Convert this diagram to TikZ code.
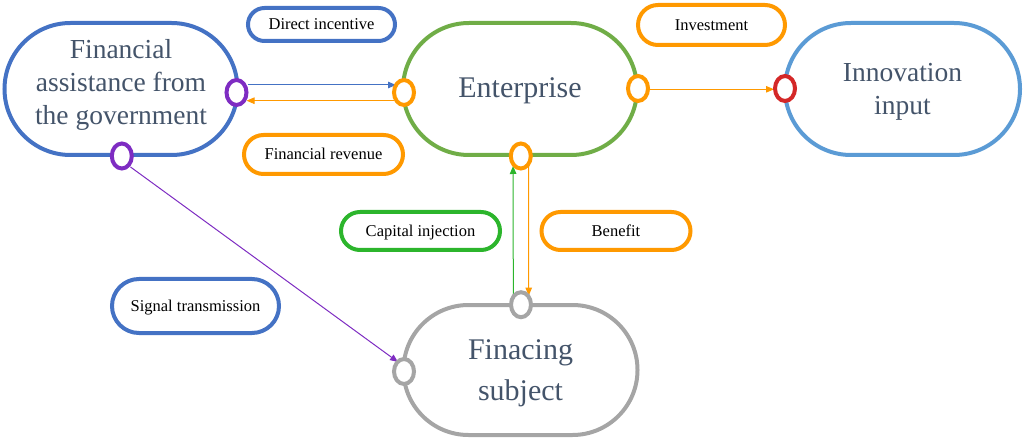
\documentclass[tikz,border=0pt]{standalone}
\usepackage{fontspec}
\setmainfont{Liberation Serif}
\usetikzlibrary{shapes.misc,shapes.geometric,arrows.meta,calc}
\definecolor{cblue}{HTML}{4472C4}
\definecolor{cgreen}{HTML}{70AD47}
\definecolor{clblue}{HTML}{5B9BD5}
\definecolor{cgray}{HTML}{A5A5A5}
\definecolor{corange}{HTML}{FF9900}
\definecolor{cpurple}{HTML}{7E2CC2}
\definecolor{cred}{HTML}{D42828}
\definecolor{cbgreen}{HTML}{2CB52C}
\definecolor{ctext}{HTML}{44546A}
\tikzset{
  mainbox/.style={rounded rectangle, line width=4pt, inner sep=0pt, align=center,
    minimum height=132pt, minimum width=233pt, text=ctext,
    font=\fontsize{30}{33}\selectfont},
  lab/.style={rounded rectangle, line width=4pt, inner sep=0pt, align=center,
    text=black, text height=11pt, text depth=0pt, font=\fontsize{16.5}{19}\selectfont},
  port/.style={ellipse, line width=4pt, inner sep=0pt, fill=white,
    minimum width=20pt, minimum height=25pt},
  conn/.style={line width=1pt, -{Triangle[length=8pt,width=6.5pt]}}
}
\begin{document}
\begin{tikzpicture}[x=1pt,y=-1pt]
\useasboundingbox (0,0) rectangle (1025,446);
% main boxes
\node[mainbox, draw=cblue, text depth=14.8pt, font=\fontsize{27.5}{33}\selectfont] (gov) at (121,89) {Financial\\assistance from\\the government};
\node[mainbox, draw=cgreen, minimum width=234pt, text depth=3pt] (ent) at (520,89) {Enterprise};
\node[mainbox, draw=clblue, minimum width=235pt, text depth=0pt, font=\fontsize{27.5}{32.6}\selectfont] (inn) at (902.5,89) {Innovation\\input};
\node[mainbox, draw=cgray, minimum width=234pt, minimum height=130pt, text depth=-9pt,
  font=\fontsize{30}{41}\selectfont] (fin) at (520.5,370) {Finacing\\subject};
% labels
\node[lab, draw=cblue, minimum width=147pt, minimum height=33pt] (ldi) at (321.5,24.5) {Direct incentive};
\node[lab, draw=corange, minimum width=159pt, minimum height=39pt] (lfr) at (323.5,154.5) {Financial revenue};
\node[lab, draw=corange, minimum width=147pt, minimum height=40pt] (linv) at (711.5,25) {Investment};
\node[lab, draw=cbgreen, minimum width=159pt, minimum height=38pt] (lci) at (420.5,231) {Capital injection};
\node[lab, draw=corange, minimum width=149pt, minimum height=38pt] (lben) at (616,231) {Benefit};
\node[lab, draw=cblue, minimum width=167pt, minimum height=54pt] (lsig) at (195.5,306) {Signal transmission};
% connectors
\coordinate (grc) at (236.5,92.5);
\coordinate (gbc) at (121.8,156);
\coordinate (elc) at (404,92.5);
\coordinate (erc) at (638,88.5);
\coordinate (ebc) at (520.8,156);
\coordinate (ilc) at (785,88.5);
\coordinate (ftc) at (521,304.7);
\coordinate (flc) at (404,371.5);
\draw[conn, cblue] ($(grc)+(11,-7.5)$) -- ($(elc)+(-8,-7.5)$);
\draw[conn, corange] ($(elc)+(-10,8.2)$) -- ($(grc)+(10,8.2)$);
\draw[conn, corange] ($(erc)+(12,0.8)$) -- ($(ilc)+(-11,0.8)$);
\draw[conn, cbgreen] ($(ftc)+(-7.7,-9)$) -- ($(ebc)+(-7.7,10)$);
\draw[conn, corange] ($(ebc)+(7.7,10)$) -- ($(ftc)+(7.7,-9)$);
\draw[conn, cpurple] ($(gbc)+(8.7,11)$) -- ($(flc)+(-6,-9.5)$);
% ports
\node[port, draw=cpurple] (gr) at (grc) {};
\node[port, draw=cpurple] (gb) at (gbc) {};
\node[port, draw=corange] (el) at (elc) {};
\node[port, draw=corange] (er) at (erc) {};
\node[port, draw=corange] (eb) at (ebc) {};
\node[port, draw=cred] (il) at (ilc) {};
\node[port, draw=cgray] (ft) at (ftc) {};
\node[port, draw=cgray] (fl) at (flc) {};
\end{tikzpicture}
\end{document}
